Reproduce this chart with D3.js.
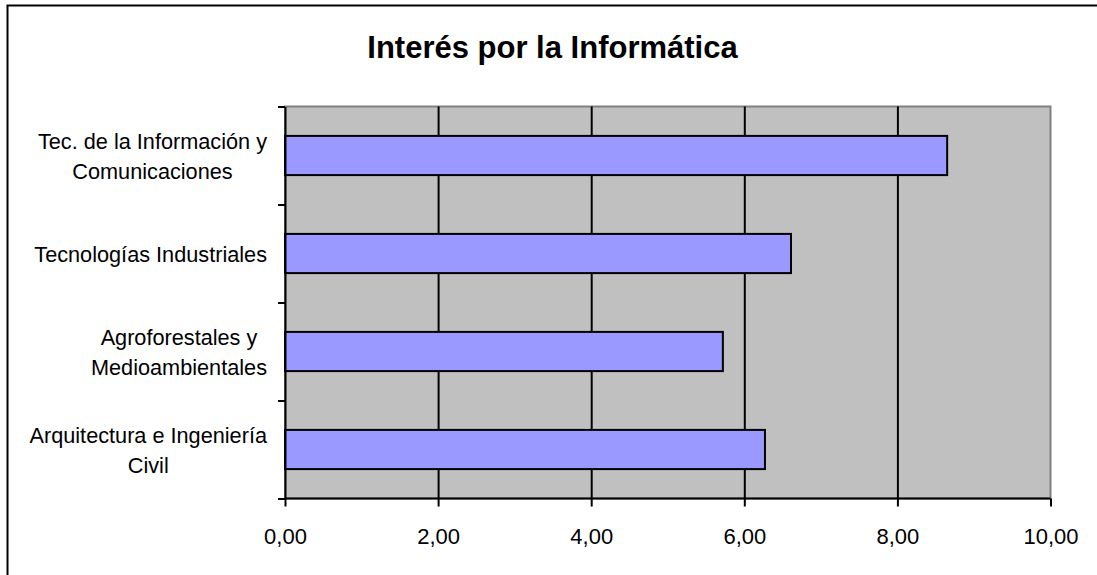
<!DOCTYPE html>
<html>
<head>
<meta charset="utf-8">
<script src="https://cdn.jsdelivr.net/npm/d3@7"></script>
<style>
    body { margin: 0; background: #fff; }
    svg { display: block; font-family: "Liberation Sans", Arial, sans-serif; }
    .title { font-size: 31px; font-weight: bold; }
    .catLabel { font-size: 21.7px; }
    .x.axis text { font-size: 22px; font-family: "Liberation Sans", Arial, sans-serif; fill: #000; }
</style>
</head>
<body>
<svg></svg>
<script>
// data (top to bottom)
const categories = [
    ["Tec. de la Información y", "Comunicaciones"],
    ["Tecnologías Industriales"],
    ["Agroforestales y", "Medioambientales"],
    ["Arquitectura e Ingeniería", "Civil"]
];
const values = [8.65, 6.61, 5.72, 6.27];
const xTicks = [0, 2, 4, 6, 8, 10];
const titleText = "Interés por la Informática";

function drawChart() {
    const svgWidth = 1097, svgHeight = 575;
    const plot = { left: 285, right: 1050.5, top: 106.5, bottom: 498.5 };

    const svg = d3.select("svg")
        .attr("width", svgWidth)
        .attr("height", svgHeight);

    // chart area border
    svg.append("rect")
        .attr("x", 7.5).attr("y", 5.5)
        .attr("width", 1091).attr("height", 580)
        .attr("fill", "#fff")
        .attr("stroke", "#000")
        .attr("stroke-width", 2);

    // title
    svg.append("text")
        .attr("class", "title")
        .attr("x", 552.5).attr("y", 58)
        .attr("text-anchor", "middle")
        .text(titleText);

    const keys = categories.map((d, i) => i);

    const x = d3.scaleLinear()
        .domain([0, 10])
        .range([plot.left, plot.right]);

    const y = d3.scaleBand()
        .domain(keys)
        .range([plot.top, plot.bottom])
        .padding(0);

    // plot area background
    svg.append("rect")
        .attr("x", plot.left).attr("y", plot.top)
        .attr("width", plot.right - plot.left)
        .attr("height", plot.bottom - plot.top)
        .attr("fill", "#C0C0C0")
        .attr("stroke", "#808080")
        .attr("stroke-width", 2);

    // vertical gridlines
    svg.append("g")
        .attr("class", "grid")
        .attr("transform", `translate(0, ${plot.bottom})`)
        .call(d3.axisBottom(x)
            .tickValues(xTicks.filter(d => d > 0 && d < 10))
            .tickSize(-(plot.bottom - plot.top))
            .tickFormat(""))
        .call(g => g.select(".domain").remove())
        .selectAll("line")
        .attr("stroke", "#000")
        .attr("stroke-width", 2);

    // bars (gap width 150%)
    const bw = y.bandwidth();
    svg.append("g")
        .selectAll("rect")
        .data(values)
        .join("rect")
        .attr("x", x(0))
        .attr("y", (d, i) => y(i) + bw * 0.3)
        .attr("width", d => x(d) - x(0))
        .attr("height", bw * 0.4)
        .attr("fill", "#9999FF")
        .attr("stroke", "#000")
        .attr("stroke-width", 2);

    // left axis with ticks at category boundaries
    const yEdge = d3.scaleLinear()
        .domain([0, categories.length])
        .range([plot.top, plot.bottom]);

    svg.append("g")
        .attr("class", "y axis")
        .attr("transform", `translate(${plot.left}, 0)`)
        .call(d3.axisLeft(yEdge)
            .tickValues(d3.range(categories.length + 1))
            .tickSize(7)
            .tickSizeOuter(0)
            .tickFormat(""))
        .call(g => g.selectAll("line, path").attr("stroke", "#000").attr("stroke-width", 2));

    // bottom axis
    svg.append("g")
        .attr("class", "x axis")
        .attr("transform", `translate(0, ${plot.bottom})`)
        .call(d3.axisBottom(x)
            .tickValues(xTicks)
            .tickSize(8)
            .tickSizeOuter(0)
            .tickPadding(22)
            .tickFormat(d => d3.format(".2f")(d).replace(".", ",")))
        .call(g => g.selectAll("line, path").attr("stroke", "#000").attr("stroke-width", 2))
        .call(g => g.select(".domain").attr("d", `M${plot.left},0H${plot.right}`));

    // category labels, wrapped lines centred in a block that ends at x=267
    const lineGap = 30;
    categories.forEach((lines, i) => {
        const cy = y(i) + bw / 2;
        const t = svg.append("text")
            .attr("class", "catLabel")
            .attr("text-anchor", "middle")
            .attr("dominant-baseline", "central");
        lines.forEach((ln, j) => {
            t.append("tspan")
                .attr("y", cy + (j - (lines.length - 1) / 2) * lineGap)
                .text(ln);
        });
        let maxW = 0;
        t.selectAll("tspan").each(function() {
            maxW = Math.max(maxW, this.getComputedTextLength());
        });
        t.selectAll("tspan").attr("x", 267 - maxW / 2);
    });
}

drawChart();
</script>
</body>
</html>
